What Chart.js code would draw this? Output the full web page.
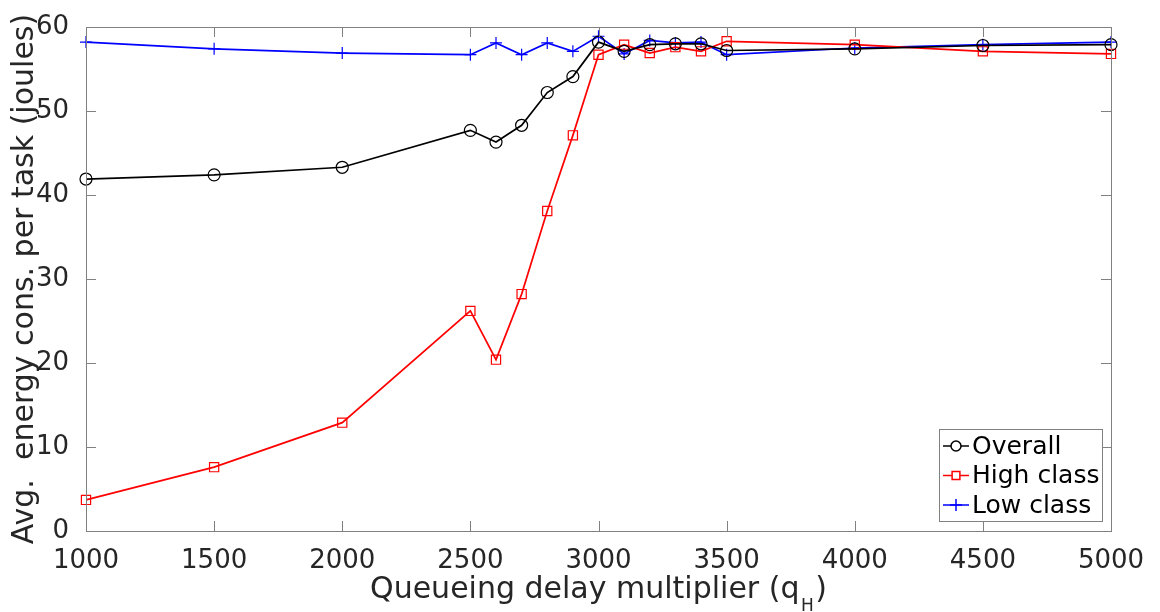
<!DOCTYPE html>
<html>
<head>
<meta charset="utf-8">
<title>Energy per task vs queueing delay multiplier</title>
<script src="https://cdn.jsdelivr.net/npm/chart.js@4.4.1/dist/chart.umd.min.js"></script>
<style>
  html, body { margin: 0; padding: 0; background: #fff; }
  #wrap { width: 1160px; height: 612px; }
</style>
</head>
<body>
<div id="wrap"><canvas id="energyChart" width="1160" height="612"></canvas></div>
<script>
var qH = [1000, 1500, 2000, 2500, 2600, 2700, 2800, 2900, 3000, 3100, 3200, 3300, 3400, 3500, 4000, 4500, 5000];
var overall = [41.9, 42.4, 43.3, 47.7, 46.3, 48.3, 52.2, 54.1, 58.2, 57.1, 57.9, 58.0, 58.0, 57.2, 57.4, 57.8, 57.9];
var highClass = [3.7, 7.6, 12.9, 26.2, 20.4, 28.2, 38.1, 47.1, 56.7, 57.9, 56.9, 57.6, 57.1, 58.3, 57.9, 57.1, 56.8];
var lowClass = [58.2, 57.4, 56.9, 56.7, 58.1, 56.7, 58.1, 57.1, 58.9, 56.8, 58.4, 58.1, 58.2, 56.7, 57.5, 57.9, 58.2];
var xTicks = [1000, 1500, 2000, 2500, 3000, 3500, 4000, 4500, 5000];
var yTicks = [0, 10, 20, 30, 40, 50, 60];

var xTitle = "Queueing delay multiplier (q";
var xTitleSub = "H";
var yTitle = "Avg.  energy cons. per task (joules)";

var FONT = "'DejaVu Sans', sans-serif";
var AXIS_GREY = "#808080";
var TEXT_COL = "#262626";

function pts(ys) {
  var out = [];
  for (var i = 0; i < qH.length; i++) {
    out.push({ x: qH[i], y: ys[i] });
  }
  return out;
}

// box, inward ticks, axis titles and the legend box
var framePlugin = {
  id: "frame",
  afterDatasetsDraw: function (chart) {
    var ctx = chart.ctx;
    var a = chart.chartArea;
    var xs = chart.scales.x, ys = chart.scales.y;
    var tl = 10;
    ctx.save();
    ctx.strokeStyle = AXIS_GREY;
    ctx.lineWidth = 1;
    ctx.strokeRect(a.left + 0.5, a.top + 0.5, a.right - a.left, a.bottom - a.top);
    ctx.beginPath();
    xTicks.forEach(function (t) {
      var px = Math.round(xs.getPixelForValue(t)) + 0.5;
      ctx.moveTo(px, a.bottom); ctx.lineTo(px, a.bottom - tl);
      ctx.moveTo(px, a.top); ctx.lineTo(px, a.top + tl);
    });
    yTicks.forEach(function (t) {
      var py = Math.round(ys.getPixelForValue(t)) + 0.5;
      ctx.moveTo(a.left, py); ctx.lineTo(a.left + tl, py);
      ctx.moveTo(a.right, py); ctx.lineTo(a.right - tl, py);
    });
    ctx.stroke();

    // x title with subscript
    ctx.fillStyle = TEXT_COL;
    ctx.textBaseline = "alphabetic";
    ctx.font = "30px " + FONT;
    var w1 = ctx.measureText(xTitle).width;
    ctx.font = "17px " + FONT;
    var w2 = ctx.measureText(xTitleSub).width;
    ctx.font = "30px " + FONT;
    var w3 = ctx.measureText(")").width;
    var cx = (a.left + a.right) / 2;
    var x0 = cx - (w1 + w2 + w3 + 3) / 2;
    var base = 598;
    ctx.textAlign = "left";
    ctx.fillText(xTitle, x0, base);
    ctx.font = "17px " + FONT;
    ctx.fillText(xTitleSub, x0 + w1 + 1.5, base + 13);
    ctx.font = "30px " + FONT;
    ctx.fillText(")", x0 + w1 + w2 + 3, base);

    // y title
    ctx.save();
    ctx.translate(33, (a.top + a.bottom) / 2);
    ctx.rotate(-Math.PI / 2);
    ctx.textAlign = "center";
    ctx.font = "30px " + FONT;
    ctx.fillText(yTitle, 0, 0);
    ctx.restore();

    // legend
    var lx = 939, ly = 429, lw = 163, lh = 92;
    ctx.fillStyle = "#fff";
    ctx.fillRect(lx, ly, lw, lh);
    ctx.strokeStyle = AXIS_GREY;
    ctx.lineWidth = 1;
    ctx.strokeRect(lx + 0.5, ly + 0.5, lw, lh);
    chart.data.datasets.forEach(function (ds, i) {
      var yy = ly + 17 + i * 29.5;
      var sx0 = lx + 4, sx1 = lx + 30, sm = (sx0 + sx1) / 2;
      ctx.strokeStyle = ds.borderColor;
      ctx.lineWidth = 1.5;
      ctx.beginPath();
      ctx.moveTo(sx0, yy); ctx.lineTo(sx1, yy);
      ctx.stroke();
      ctx.fillStyle = "#fff";
      Chart.helpers.drawPoint(ctx, {
        pointStyle: ds.pointStyle, radius: ds.legendRadius, borderWidth: 1.2
      }, sm, yy);
      ctx.fillStyle = "#000";
      ctx.font = "25px " + FONT;
      ctx.textAlign = "left";
      ctx.textBaseline = "middle";
      ctx.fillText(ds.label, lx + 33, yy + 1);
    });
    ctx.restore();
  }
};

new Chart(document.getElementById("energyChart"), {
  type: "line",
  data: {
    datasets: [
      {
        label: "Overall",
        data: pts(overall),
        borderColor: "#000000",
        pointStyle: "circle",
        pointRadius: 6,
        legendRadius: 5
      },
      {
        label: "High class",
        data: pts(highClass),
        borderColor: "#ff0000",
        pointStyle: "rect",
        pointRadius: 6.5,
        legendRadius: 5.5
      },
      {
        label: "Low class",
        data: pts(lowClass),
        borderColor: "#0000ff",
        pointStyle: "cross",
        pointRadius: 6,
        legendRadius: 6
      }
    ].map(function (ds) {
      ds.borderWidth = 1.7;
      ds.pointBorderColor = ds.borderColor;
      ds.pointBackgroundColor = "rgba(0,0,0,0)";
      ds.pointBorderWidth = 1.2;
      ds.tension = 0;
      ds.fill = false;
      ds.clip = false;
      return ds;
    })
  },
  options: {
    responsive: false,
    animation: false,
    events: [],
    layout: { padding: { left: 0, top: 27, right: 49, bottom: 0 } },
    plugins: { legend: { display: false }, tooltip: { enabled: false } },
    scales: {
      x: {
        type: "linear",
        min: 1000,
        max: 5000,
        afterBuildTicks: function (s) { s.ticks = xTicks.map(function (v) { return { value: v }; }); },
        afterFit: function (s) { s.height = 81; },
        grid: { display: false },
        border: { display: false },
        ticks: {
          color: TEXT_COL, font: { family: FONT, size: 26 }, padding: 7, maxRotation: 0,
          callback: function (v) { return String(v); }
        }
      },
      y: {
        min: 0,
        max: 60,
        afterBuildTicks: function (s) { s.ticks = yTicks.map(function (v) { return { value: v }; }); },
        afterFit: function (s) { s.width = 86; },
        grid: { display: false },
        border: { display: false },
        ticks: {
          color: TEXT_COL, font: { family: FONT, size: 26 }, padding: 9,
          callback: function (v) { return String(v); }
        }
      }
    }
  },
  plugins: [framePlugin]
});
</script>
</body>
</html>
